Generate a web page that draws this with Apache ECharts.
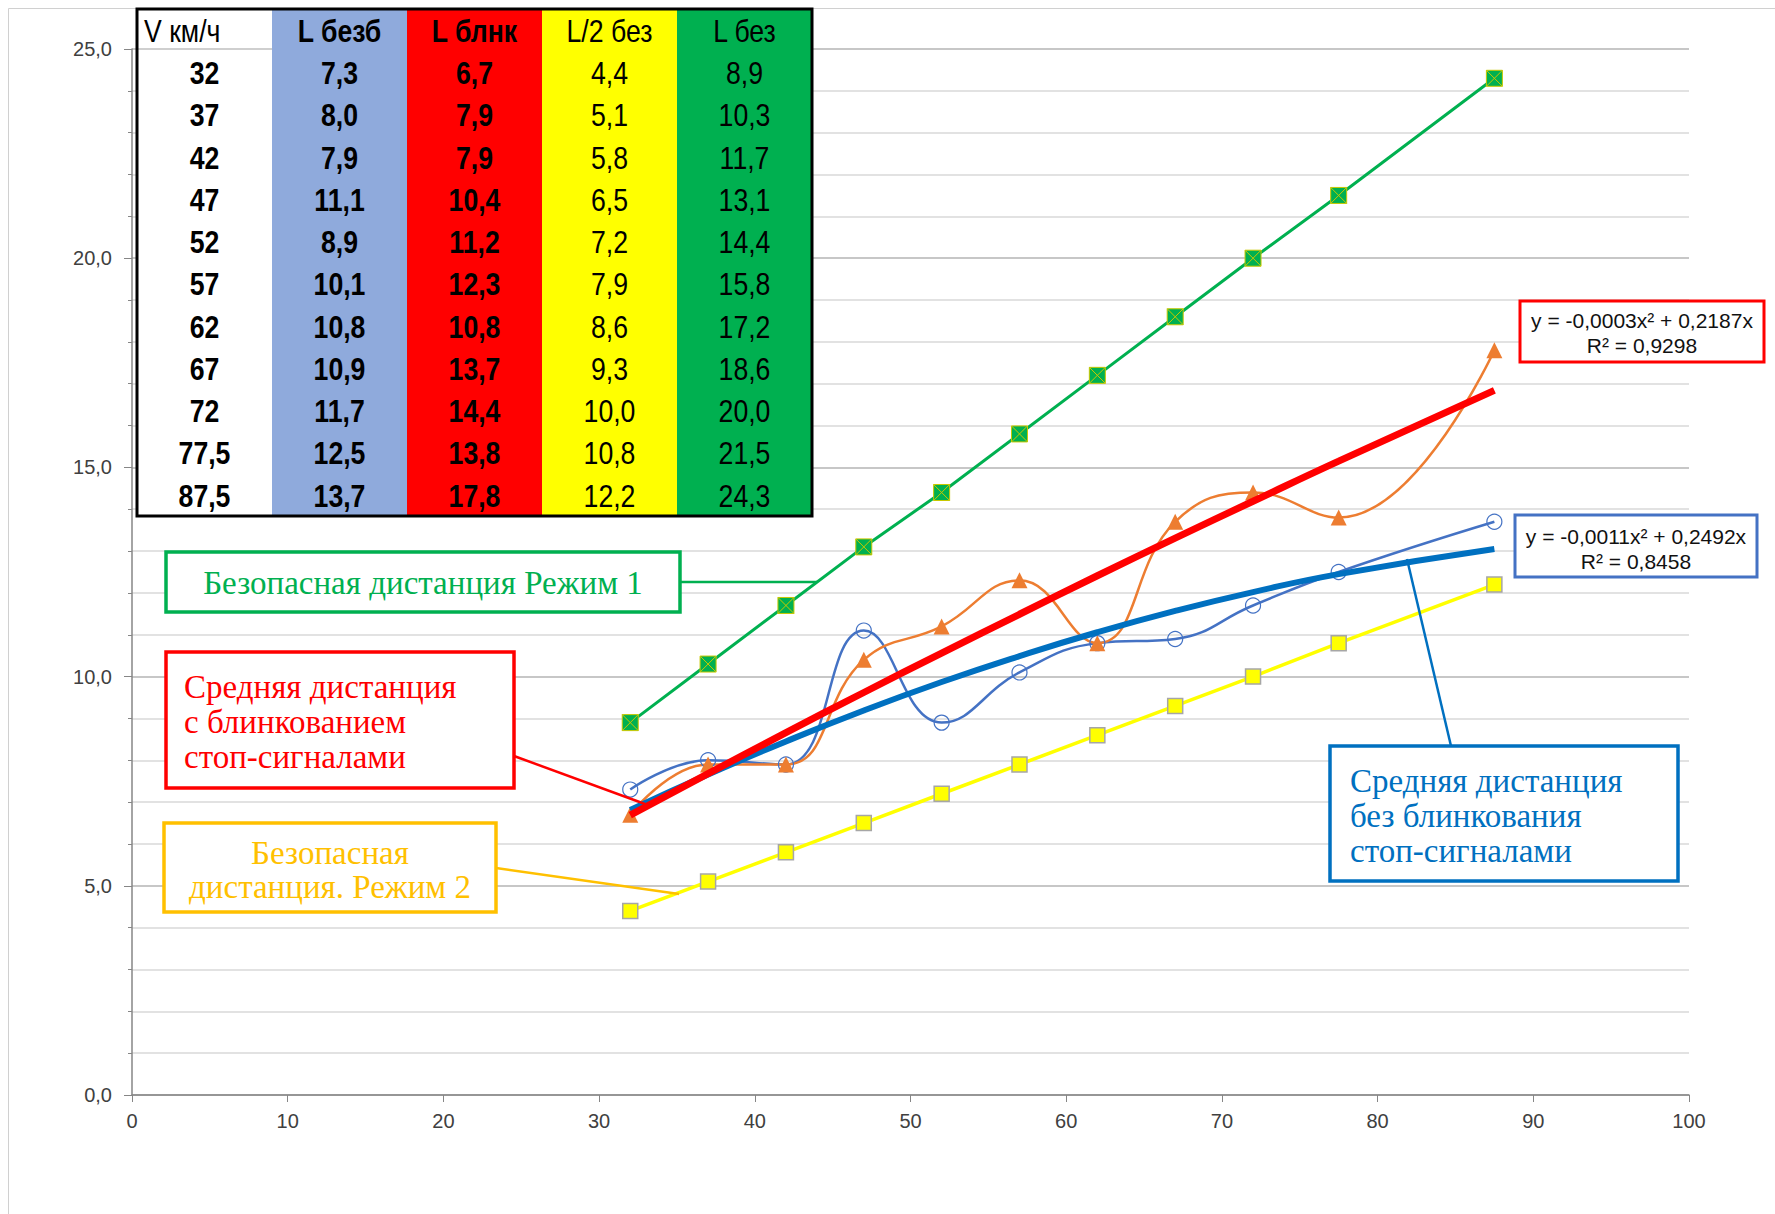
<!DOCTYPE html>
<html>
<head>
<meta charset="utf-8">
<script src="https://cdn.jsdelivr.net/npm/echarts@6/dist/echarts.min.js"></script>
<style>
html, body { margin: 0; padding: 0; background: #fff; }
#chart { width: 1775px; height: 1214px; }
</style>
</head>
<body>
<div id="chart"></div>
<script>
// speed, km/h
var speeds = [32, 37, 42, 47, 52, 57, 62, 67, 72, 77.5, 87.5];
// distances, m
var lBezb = [7.3, 8.0, 7.9, 11.1, 8.9, 10.1, 10.8, 10.9, 11.7, 12.5, 13.7];
var lBlnk = [6.7, 7.9, 7.9, 10.4, 11.2, 12.3, 10.8, 13.7, 14.4, 13.8, 17.8];
var lHalf = [4.4, 5.1, 5.8, 6.5, 7.2, 7.9, 8.6, 9.3, 10.0, 10.8, 12.2];
var lBez = [8.9, 10.3, 11.7, 13.1, 14.4, 15.8, 17.2, 18.6, 20.0, 21.5, 24.3];
// trend curves
var trendBlnk = [6.69, 7.68, 8.66, 9.62, 10.56, 11.49, 12.41, 13.31, 14.19, 15.15, 16.84];
var trendBezb = [6.81, 7.66, 8.45, 9.19, 9.87, 10.49, 11.06, 11.57, 12.02, 12.45, 13.05];

var tableHeaders = ['V км/ч', 'L безб', 'L блнк', 'L/2 без', 'L без'];
var eqBlnk = ['y = -0,0003x² + 0,2187x', 'R² = 0,9298'];
var eqBezb = ['y = -0,0011x² + 0,2492x', 'R² = 0,8458'];

function pairs(ys) {
    return speeds.map(function (x, i) { return [x, ys[i]]; });
}
function comma(v, digits) {
    return v.toFixed(digits).replace('.', ',');
}

var graphics = [];

// outer chart frame
graphics.push({ type: 'rect', shape: { x: 8.5, y: 8.5, width: 1800, height: 1300 }, style: { fill: 'none', stroke: '#D0D0D0', lineWidth: 1 }, z: 0 });

// data table in the top left corner
var tX = 137, tY = 9, colW = 135, rowH = 42.25;
var tableCols = [speeds, lBezb, lBlnk, lHalf, lBez];
var colFill = ['#ffffff', '#8FAADC', '#FF0000', '#FFFF00', '#00B050'];
var colBold = [true, true, true, false, false];
var headBold = [false, true, true, false, false];
var narrow = '"Liberation Sans", "DejaVu Sans", sans-serif';

function cellText(str, px, py, align, bold) {
    // condensed look: squeeze the glyphs horizontally
    return {
        type: 'text', z: 12, x: px, y: py, scaleX: 0.86,
        style: {
            text: str, x: 0, y: 0,
            textAlign: align, textVerticalAlign: 'middle', align: align, verticalAlign: 'middle',
            font: (bold ? 'bold ' : '') + '31px ' + narrow, fill: '#000'
        }
    };
}
tableCols.forEach(function (col, c) {
    graphics.push({ type: 'rect', shape: { x: tX + c * colW, y: tY, width: colW, height: rowH * 12 }, style: { fill: colFill[c] }, z: 10 });
    graphics.push(cellText(tableHeaders[c], c === 0 ? tX + 7 : tX + c * colW + colW / 2, tY + rowH / 2 + 1,
        c === 0 ? 'left' : 'center', headBold[c]));
    col.forEach(function (v, r) {
        graphics.push(cellText(c === 0 ? String(v).replace('.', ',') : comma(v, 1),
            tX + c * colW + colW / 2, tY + rowH * (r + 1.5) + 1, 'center', colBold[c]));
    });
});
graphics.push({ type: 'line', shape: { x1: tX, y1: 49, x2: tX + colW, y2: 49 }, style: { stroke: '#BFBFBF', lineWidth: 1.5 }, z: 11 });
graphics.push({ type: 'rect', shape: { x: tX, y: tY, width: colW * 5, height: rowH * 12 }, style: { fill: 'none', stroke: '#000', lineWidth: 3 }, z: 13 });

// callout boxes with their leader lines
var serif = '"Liberation Serif", "DejaVu Serif", serif';
function callout(box, color, lines, align, textX, firstY, step, leader) {
    graphics.push({ type: 'line', shape: leader, style: { stroke: color, lineWidth: 2.5 }, z: 20 });
    graphics.push({ type: 'rect', shape: box, style: { fill: '#fff', stroke: color, lineWidth: 3.5 }, z: 21 });
    lines.forEach(function (t, i) {
        graphics.push({
            type: 'text', z: 22,
            style: {
                text: t, x: textX, y: firstY + i * step,
                textAlign: align, textVerticalAlign: 'middle', align: align, verticalAlign: 'middle',
                font: '33px ' + serif, fill: color
            }
        });
    });
}
callout({ x: 166, y: 552, width: 514, height: 60 }, '#00B050', ['Безопасная дистанция Режим 1'], 'center', 423, 583, 0,
    { x1: 680, y1: 582, x2: 817, y2: 582 });
callout({ x: 166, y: 652, width: 348, height: 136 }, '#FF0000', ['Средняя дистанция', 'с блинкованием', 'стоп-сигналами'], 'left', 184, 687, 35,
    { x1: 514, y1: 756, x2: 645, y2: 804 });
callout({ x: 164, y: 823, width: 332, height: 89 }, '#FFC000', ['Безопасная', 'дистанция. Режим 2'], 'center', 330, 853, 34,
    { x1: 496, y1: 868, x2: 679, y2: 894 });
callout({ x: 1330, y: 746, width: 348, height: 135 }, '#0070C0', ['Средняя дистанция', 'без блинкования', 'стоп-сигналами'], 'left', 1350, 781, 35,
    { x1: 1451, y1: 746, x2: 1407, y2: 559 });

// trendline equation labels
function eqBox(box, color, lines, cx, firstY) {
    graphics.push({ type: 'rect', shape: box, style: { fill: '#fff', stroke: color, lineWidth: 3 }, z: 21 });
    lines.forEach(function (t, i) {
        graphics.push({
            type: 'text', z: 22,
            style: {
                text: t, x: cx, y: firstY + i * 25,
                textAlign: 'center', textVerticalAlign: 'middle', align: 'center', verticalAlign: 'middle',
                font: '21px "Liberation Sans", "DejaVu Sans", sans-serif', fill: '#111'
            }
        });
    });
}
eqBox({ x: 1520, y: 301, width: 244, height: 61 }, '#FF0000', eqBlnk, 1642, 320);
eqBox({ x: 1515, y: 515, width: 242, height: 62 }, '#4472C4', eqBezb, 1636, 536);

var chart = echarts.init(document.getElementById('chart'), null, { renderer: 'svg' });
chart.setOption({
    animation: false,
    backgroundColor: '#fff',
    grid: { left: 132, right: 86, top: 49, bottom: 119 },
    xAxis: {
        type: 'value', min: 0, max: 100, interval: 10,
        axisLine: { show: true, onZero: false, lineStyle: { color: '#868686', width: 1.5 } },
        axisTick: { show: true, length: 7, lineStyle: { color: '#868686' } },
        axisLabel: { margin: 16, color: '#404040', fontSize: 20, fontFamily: '"Liberation Sans", sans-serif' },
        splitLine: { show: false }
    },
    yAxis: {
        type: 'value', min: 0, max: 25, interval: 5,
        axisLine: { show: true, lineStyle: { color: '#868686', width: 1.5 } },
        axisTick: { show: true, length: 8, lineStyle: { color: '#868686' } },
        minorTick: { show: true, splitNumber: 5, length: 4, lineStyle: { color: '#868686' } },
        axisLabel: {
            margin: 20, color: '#404040', fontSize: 20, fontFamily: '"Liberation Sans", sans-serif',
            formatter: function (v) { return comma(v, 1); }
        },
        splitLine: { show: true, lineStyle: { color: '#B5B5B5', width: 1.5 } },
        minorSplitLine: { show: true, lineStyle: { color: '#D9D9D9', width: 1.5 } }
    },
    graphic: graphics,
    series: [
        {
            name: 'L без', type: 'line', data: pairs(lBez), z: 3,
            symbol: 'path://M0 0H10V10H0ZM0 0L10 10M10 0L0 10', symbolSize: 16,
            lineStyle: { color: '#00B050', width: 3 },
            itemStyle: { color: '#00B050', borderColor: '#C8C800', borderWidth: 1 }
        },
        {
            name: 'L/2 без', type: 'line', data: pairs(lHalf), z: 3,
            symbol: 'rect', symbolSize: 15,
            lineStyle: { color: '#FFFF00', width: 3.5 },
            itemStyle: { color: '#FFFF00', borderColor: '#A6A6A6', borderWidth: 1.5 }
        },
        {
            name: 'L безб', type: 'line', data: pairs(lBezb), z: 4, smooth: 0.45,
            symbol: 'circle', symbolSize: 15,
            lineStyle: { color: '#4472C4', width: 2.5 },
            itemStyle: { color: 'rgba(255,255,255,0)', borderColor: '#4472C4', borderWidth: 1.2 }
        },
        {
            name: 'L блнк', type: 'line', data: pairs(lBlnk), z: 4, smooth: 0.45,
            symbol: 'triangle', symbolSize: 16,
            lineStyle: { color: '#ED7D31', width: 2.5 },
            itemStyle: { color: '#ED7D31' }
        },
        {
            name: 'тренд L безб', type: 'line', data: pairs(trendBezb), z: 5, smooth: true,
            showSymbol: false, lineStyle: { color: '#0070C0', width: 6 }
        },
        {
            name: 'тренд L блнк', type: 'line', data: pairs(trendBlnk), z: 6, smooth: true,
            showSymbol: false, lineStyle: { color: '#FF0000', width: 7 }
        }
    ]
});
</script>
</body>
</html>
